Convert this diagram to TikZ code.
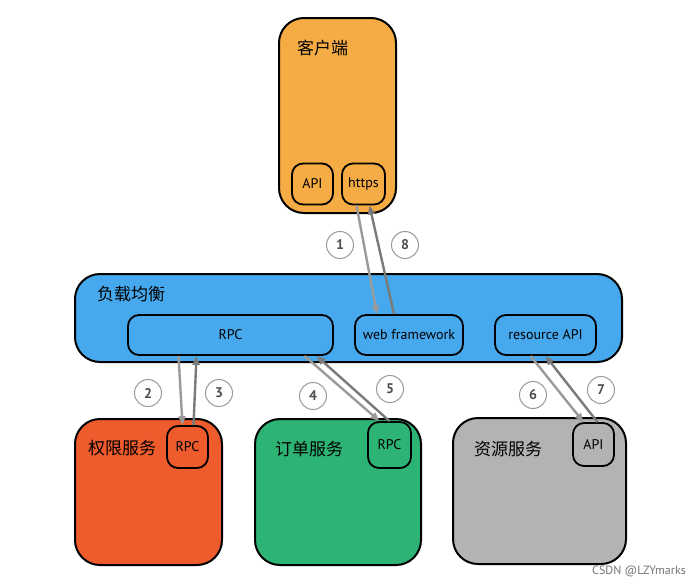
\documentclass[tikz,border=0pt]{standalone}
\usepackage{fontspec}
\setmainfont{PT Sans}
\newfontfamily\cjk{Noto Sans CJK SC}
\usetikzlibrary{arrows.meta}
\definecolor{cOrange}{HTML}{F5AC45}
\definecolor{cBlue}{HTML}{46A9EE}
\definecolor{cRed}{HTML}{EE5B2D}
\definecolor{cGreen}{HTML}{2DB474}
\definecolor{cGray}{HTML}{B3B3B3}
\definecolor{arrLight}{HTML}{9A9A9A}
\definecolor{arrDark}{HTML}{7A7A7A}
\tikzset{
  bigbox/.style={draw=black, line width=2pt, rounded corners=25pt, inner sep=0pt},
  smallbox/.style={draw=black, line width=1.8pt, rounded corners=11pt, inner sep=0pt, font=\fontsize{14}{16}\selectfont},
  cjklabel/.style={font=\cjk\fontsize{17}{19}\selectfont, inner sep=0pt},
  num/.style={circle, draw=arrLight, line width=1pt, fill=white, minimum size=27pt, inner sep=0pt, font=\fontsize{14}{16}\selectfont\bfseries, text=black!70},
  reqarrow/.style={draw=arrLight, line width=2.4pt, -{Triangle[length=9pt,width=7pt]}},
  resarrow/.style={draw=arrDark, line width=2.4pt, -{Triangle[length=9pt,width=7pt]}},
}
\begin{document}
\begin{tikzpicture}[x=1pt,y=-1pt]
\useasboundingbox (0,0) rectangle (691,584);
% client
\node[bigbox, fill=cOrange, minimum width=117pt, minimum height=195pt] (client) at (337.5,115.5) {};
\node[cjklabel, anchor=west] (clientlbl) at (297,48) {客户端};
\node[smallbox, minimum width=41pt, minimum height=41pt] (capi) at (312.5,184) {API};
\node[smallbox, minimum width=43pt, minimum height=41pt] (https) at (363.5,184) {https};
% load balancer
\node[bigbox, fill=cBlue, minimum width=547pt, minimum height=88pt] (lb) at (348.5,318) {};
\node[cjklabel, anchor=west] (lblbl) at (97,294) {负载均衡};
\node[smallbox, minimum width=205pt, minimum height=40pt] (rpc) at (230.5,335) {RPC};
\node[smallbox, minimum width=108pt, minimum height=40pt] (web) at (409,335) {web framework};
\node[smallbox, minimum width=101pt, minimum height=40pt] (res) at (545.5,335) {resource API};
% services
\node[bigbox, fill=cRed, minimum width=147pt, minimum height=146pt] (auth) at (148.5,492) {};
\node[cjklabel, anchor=west] (authlbl) at (88,448) {权限服务};
\node[smallbox, minimum width=41pt, minimum height=42pt] (authrpc) at (187.5,447) {RPC};
\node[bigbox, fill=cGreen, minimum width=166pt, minimum height=146pt] (order) at (338,492) {};
\node[cjklabel, anchor=west] (orderlbl) at (275,449) {订单服务};
\node[smallbox, minimum width=43pt, minimum height=46pt] (orderrpc) at (389.5,445) {RPC};
\node[bigbox, fill=cGray, minimum width=173pt, minimum height=146pt] (resrc) at (539.5,491) {};
\node[cjklabel, anchor=west] (resrclbl) at (474,449) {资源服务};
\node[smallbox, minimum width=41pt, minimum height=43pt] (resapi) at (593.5,444.5) {API};
% arrows
\draw[reqarrow] ([xshift=-7pt]https.south) -- ([xshift=-32pt]web.north);
\draw[resarrow] ([xshift=-15pt]web.north) -- ([xshift=6pt]https.south);
\draw[reqarrow] ([xshift=-52pt]rpc.south) -- ([xshift=-5pt]authrpc.north);
\draw[resarrow] ([xshift=6pt]authrpc.north) -- ([xshift=-34pt]rpc.south);
\draw[reqarrow] ([xshift=74pt]rpc.south) -- ([xshift=-10pt]orderrpc.north);
\draw[resarrow] ([xshift=0pt]orderrpc.north) -- ([xshift=86pt]rpc.south);
\draw[reqarrow] ([xshift=-15pt]res.south) -- ([xshift=-10pt]resapi.north);
\draw[resarrow] ([xshift=4pt]resapi.north) -- ([xshift=0pt]res.south);
% numbers
\node[num] (n1) at (340,245) {1};
\node[num] (n8) at (405,245) {8};
\node[num] (n2) at (148,393) {2};
\node[num] (n3) at (219,393) {3};
\node[num] (n4) at (313,396) {4};
\node[num] (n5) at (390,389) {5};
\node[num] (n6) at (533,395) {6};
\node[num] (n7) at (601,390) {7};
% watermark
\node[font=\fontsize{12}{14}\selectfont, text=black!55, anchor=east, inner sep=0pt] (wm) at (686,571) {CSDN @LZYmarks};
\end{tikzpicture}
\end{document}
